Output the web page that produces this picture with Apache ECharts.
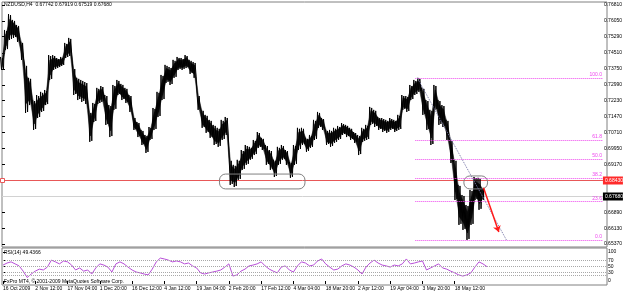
<!DOCTYPE html>
<html><head><meta charset="utf-8">
<script src="https://cdn.jsdelivr.net/npm/echarts@6.0.0/dist/echarts.min.js"></script>
<style>html,body{margin:0;padding:0;background:#fff}#c{width:625px;height:295px}</style>
</head><body><div id="c"></div>
<script>
// ---- data (one sample = 8 H4 bars) ----
const symbolName = 'NZDUSD,H4';
const lastBar = ['0.67742', '0.67919', '0.67519', '0.67680'];
const priceHigh = [
0.7432,0.7561,0.7637,0.7609,0.7585,0.7504,0.7394,0.7332,0.7226,0.7250,
0.7265,0.7274,0.7441,0.7441,0.7427,0.7432,0.7499,0.7523,0.7379,0.7332,
0.7322,0.7312,0.7169,0.7212,0.7284,0.7293,0.7250,0.7202,0.7298,0.7322,
0.7303,0.7284,0.7250,0.7145,0.7121,0.7083,0.7059,0.7097,0.7188,0.7265,
0.7346,0.7394,0.7384,0.7418,0.7432,0.7427,0.7441,0.7418,0.7408,0.7250,
0.7179,0.7155,0.7131,0.7107,0.7093,0.7131,0.7145,0.6940,0.6916,0.6940,
0.6987,0.7011,0.7002,0.7035,0.7073,0.7045,0.7011,0.6987,0.6940,0.7002,
0.7011,0.6987,0.6930,0.7011,0.7093,0.7093,0.7045,0.7059,0.7131,0.7169,
0.7140,0.7083,0.7083,0.7093,0.7102,0.7116,0.7107,0.7093,0.7073,0.7059,
0.7093,0.7107,0.7193,0.7179,0.7145,0.7140,0.7131,0.7140,0.7131,0.7155,
0.7250,0.7245,0.7298,0.7322,0.7332,0.7284,0.7226,0.7179,0.7298,0.7226,
0.7202,0.7131,0.7035,0.6940,0.6820,0.6772,0.6724,0.6796,0.6858,0.6854,
0.6806];
const priceLow = [
0.7370,0.7465,0.7513,0.7523,0.7504,0.7418,0.7164,0.7202,0.7083,0.7140,
0.7169,0.7202,0.7322,0.7370,0.7379,0.7389,0.7427,0.7437,0.7250,0.7226,
0.7217,0.7207,0.7026,0.7121,0.7207,0.7217,0.7107,0.7049,0.7179,0.7250,
0.7226,0.7212,0.7169,0.7083,0.7049,0.7011,0.6973,0.7035,0.7083,0.7145,
0.7226,0.7308,0.7298,0.7332,0.7370,0.7370,0.7379,0.7351,0.7332,0.7179,
0.7093,0.7069,0.7045,0.7011,0.7002,0.7035,0.7059,0.6820,0.6810,0.6844,
0.6892,0.6916,0.6940,0.6963,0.6997,0.6987,0.6916,0.6892,0.6858,0.6916,
0.6940,0.6916,0.6854,0.6916,0.6987,0.7011,0.6978,0.6997,0.7035,0.7093,
0.7083,0.7011,0.7002,0.7021,0.7035,0.7059,0.7049,0.7035,0.7021,0.6963,
0.7026,0.7035,0.7107,0.7097,0.7083,0.7073,0.7069,0.7083,0.7073,0.7083,
0.7179,0.7169,0.7226,0.7250,0.7265,0.7155,0.7083,0.7011,0.7179,0.7107,
0.7097,0.7035,0.6925,0.6748,0.6629,0.6605,0.6557,0.6629,0.6748,0.6701,
0.6748];
const rsiValues = [
55,62,66,59,52,34,12,24,34,41,
38,48,72,66,59,69,66,55,38,45,
34,38,24,45,59,55,48,31,59,66,
59,48,38,31,28,24,21,41,66,79,
76,72,66,69,66,59,62,52,45,28,
24,28,31,34,38,48,59,17,21,34,
41,52,55,59,66,52,41,34,28,48,
52,38,31,52,66,62,52,55,69,76,
59,48,38,41,52,59,55,48,38,24,
48,62,72,62,55,52,48,55,52,59,
76,59,62,66,69,38,45,52,59,45,
41,34,28,21,17,21,28,48,66,59,
49.4];
const rsiLast = '49.4366';
const rsiLevels = [70, 50, 30, 20];
const rsiTicks = [0, 30, 50, 70, 100];
const tickSamples = [0,8,16,24,32,40,48,56,64,72,80,88,96,104,112];
const timeLabels = ['16 Oct 2009','2 Nov 12:00','17 Nov 04:00','1 Dec 20:00','16 Dec 12:00','4 Jan 12:00','19 Jan 04:00','2 Feb 20:00','17 Feb 12:00','4 Mar 04:00','18 Mar 20:00','2 Apr 12:00','19 Apr 04:00','3 May 20:00','18 May 12:00'];
const yTicks = [0.7681,0.7605,0.7529,0.7451,0.7375,0.7299,0.7223,0.7147,0.7071,0.6995,0.6917,0.6689,0.6613,0.6537];
const priceLevels = [0.6768, 0.6843];          // bid line, red horizontal line
const fiboLevels = [0, 23.6, 38.2, 50, 61.8, 100];
const fiboHigh = 0.7332, fiboLow = 0.6557;
const fiboStart = 103;
const fiboTrend = [[103.5, 0.7332], [125.7, 0.6557]];
const arrowLine = [[120, 0.6806], [123.8, 0.6595]];
const zones = [[54.2, 75.5, 0.6872, 0.6801], [115.1, 121.0, 0.6863, 0.6801]];

// ---- chart ----
const X_MAX = 149.75;
const FONT = 'Liberation Sans, Arial, sans-serif';
const FS = 5;
const MAG = '#ee44ee';
const levelStyles = [
  {line: '#d2d2d2', box: '#000000', marker: false},
  {line: '#e85858', box: '#ff2a2a', marker: true}
];
const chart = echarts.init(document.getElementById('c'));
const priceData = priceHigh.map((h, i) => [i, h, priceLow[i]]);
const rsiData = rsiValues.map((v, i) => [i, v]);
const levelData = priceLevels.map((p, i) => [0, p, i]);

const fiboLines = fiboLevels.map(l => {
  const p = fiboLow + (fiboHigh - fiboLow) * l / 100;
  return [{coord: [fiboStart, p], lineStyle: {color: MAG, type: 'dotted', width: 1},
           label: {show: true, position: 'insideEndTop', distance: 1, formatter: l.toFixed(1), color: MAG, fontSize: FS, fontFamily: FONT}},
          {coord: [X_MAX, p]}];
});

chart.setOption({
  animation: false,
  backgroundColor: '#ffffff',
  grid: [{left: 2, right: 18, top: 3, height: 243}, {left: 2, right: 18, top: 252, height: 29}],
  xAxis: [
    {gridIndex: 0, type: 'value', min: 0, max: X_MAX, show: false},
    {gridIndex: 1, type: 'value', min: 0, max: X_MAX, offset: 4,
     axisLine: {show: false}, splitLine: {show: false},
     axisTick: {show: true, length: 3, customValues: tickSamples, lineStyle: {color: '#000'}},
     axisLabel: {customValues: tickSamples, formatter: v => timeLabels[tickSamples.indexOf(v)] || '',
                 fontSize: FS, fontFamily: FONT, color: '#000', align: 'left', margin: 1}}
  ],
  yAxis: [
    {gridIndex: 0, type: 'value', position: 'right', min: 0.6528, max: 0.7690,
     axisLine: {show: false}, splitLine: {show: false},
     axisTick: {show: true, length: 3, customValues: yTicks, lineStyle: {color: '#000'}},
     axisLabel: {customValues: yTicks, formatter: v => v.toFixed(5), fontSize: FS, fontFamily: FONT, color: '#000', margin: 1}},
    {gridIndex: 1, type: 'value', position: 'right', min: 0, max: 100,
     axisLine: {show: false}, splitLine: {show: false},
     axisTick: {show: true, length: 3, customValues: rsiTicks, lineStyle: {color: '#000'}},
     axisLabel: {customValues: rsiTicks, fontSize: FS, fontFamily: FONT, color: '#000', margin: 1}}
  ],
  graphic: [
    {type: 'rect', z: 0, shape: {x: 2, y: 2, width: 605, height: 245}, style: {fill: 'none', stroke: '#808080', lineWidth: 1}},
    {type: 'rect', z: 0, shape: {x: 2, y: 248, width: 605, height: 37}, style: {fill: 'none', stroke: '#808080', lineWidth: 1}},
    {type: 'text', left: 4, top: 2, style: {text: symbolName + '  ' + lastBar.join(' '), fontSize: FS, fontFamily: FONT, fill: '#000'}},
    {type: 'text', left: 4, top: 250, style: {text: 'RSI(14) ' + rsiLast, fontSize: FS, fontFamily: FONT, fill: '#000'}},
    {type: 'text', left: 4, top: 279, style: {text: 'FxPro MT4, © 2001-2009 MetaQuotes Software Corp.', fontSize: FS, fontFamily: FONT, fill: '#000'}}
  ],
  series: [
    {type: 'custom', name: 'levels', xAxisIndex: 0, yAxisIndex: 0, data: levelData, z: 2, clip: false,
     encode: {x: 0, y: 1},
     renderItem: (params, api) => {
       const cs = params.coordSys;
       const lv = api.value(1);
       const st = levelStyles[api.value(2)];
       const y = Math.round(api.coord([0, lv])[1]) + 0.5;
       const right = cs.x + cs.width;
       const ch = [
         {type: 'line', shape: {x1: cs.x, y1: y, x2: right, y2: y}, style: {stroke: st.line, lineWidth: 1}},
         {type: 'rect', shape: {x: right, y: y - 4, width: 20, height: 8}, style: {fill: st.box}},
         {type: 'text', style: {text: lv.toFixed(5), x: right + 2, y: y, verticalAlign: 'middle', fill: '#fff', fontSize: FS, fontFamily: FONT}}
       ];
       if (st.marker) ch.push({type: 'rect', shape: {x: cs.x - 1.5, y: y - 2, width: 4, height: 4}, style: {fill: '#fff', stroke: st.line, lineWidth: 1}});
       return {type: 'group', children: ch};
     }},
    {type: 'custom', name: 'NZDUSD', xAxisIndex: 0, yAxisIndex: 0, data: priceData,
     encode: {x: 0, y: [1, 2]}, z: 3,
     renderItem: (params, api) => {
       const i = params.dataIndex;
       const a = api.coord([i, priceHigh[i]]);
       const b = api.coord([i, priceLow[i]]);
       const children = [];
       if (i + 1 < priceHigh.length) {
         const c = api.coord([i + 1, priceHigh[i + 1]]);
         const d = api.coord([i + 1, priceLow[i + 1]]);
         const shrink = (p, q) => [p[0], p[1] + (q[1] - p[1]) * 0.2];
         children.push({type: 'polygon', shape: {points: [shrink(a, b), shrink(c, d), shrink(d, c), shrink(b, a)]},
                        style: {fill: '#1e1e1e', stroke: '#1e1e1e', lineWidth: 0.5}});
         children.push({type: 'polyline', shape: {points: [[a[0] - 1.5, a[1]], [b[0] - 0.5, b[1]], [a[0] + 0.5, a[1] + 1], [b[0] + 1.5, b[1] - 1], [c[0] - 1.5, c[1]]]},
                        style: {stroke: '#000', lineWidth: 1, fill: null}});
       } else {
         children.push({type: 'line', shape: {x1: a[0], y1: a[1], x2: b[0], y2: b[1]}, style: {stroke: '#000', lineWidth: 1.2}});
       }
       return {type: 'group', children: children};
     }},
    {type: 'custom', name: 'zones', xAxisIndex: 0, yAxisIndex: 0, data: zones,
     encode: {x: [0, 1], y: [2, 3]}, z: 4,
     renderItem: (params, api) => {
       const p0 = api.coord([api.value(0), api.value(2)]);
       const p1 = api.coord([api.value(1), api.value(3)]);
       return {type: 'rect', shape: {x: p0[0], y: p0[1], width: p1[0] - p0[0], height: p1[1] - p0[1], r: 6},
               style: {fill: null, stroke: '#808080', lineWidth: 1}};
     }},
    {type: 'line', name: 'fibo', xAxisIndex: 0, yAxisIndex: 0, data: [], z: 2,
     markLine: {silent: true, animation: false, symbol: ['none', 'none'],
       data: fiboLines.concat([[{coord: fiboTrend[0], lineStyle: {color: '#7878a8', type: 'dotted', width: 1}, label: {show: false}}, {coord: fiboTrend[1]}]])}},
    {type: 'line', name: 'arrow', xAxisIndex: 0, yAxisIndex: 0, data: [], z: 5,
     markLine: {silent: true, animation: false, symbol: ['none', 'arrow'], symbolSize: 6,
       data: [[{coord: arrowLine[0], lineStyle: {color: '#ff1a1a', type: 'solid', width: 1.5}, label: {show: false}}, {coord: arrowLine[1]}]]}},
    {type: 'line', name: 'RSI(14)', xAxisIndex: 1, yAxisIndex: 1, data: rsiData, showSymbol: false,
     lineStyle: {color: '#b84fd8', width: 1}, z: 3,
     markLine: {silent: true, animation: false, symbol: ['none', 'none'], label: {show: false},
       lineStyle: {color: '#a8a8a8', type: 'dotted', width: 1},
       data: rsiLevels.map(v => ({yAxis: v}))}}
  ]
});
</script></body></html>
